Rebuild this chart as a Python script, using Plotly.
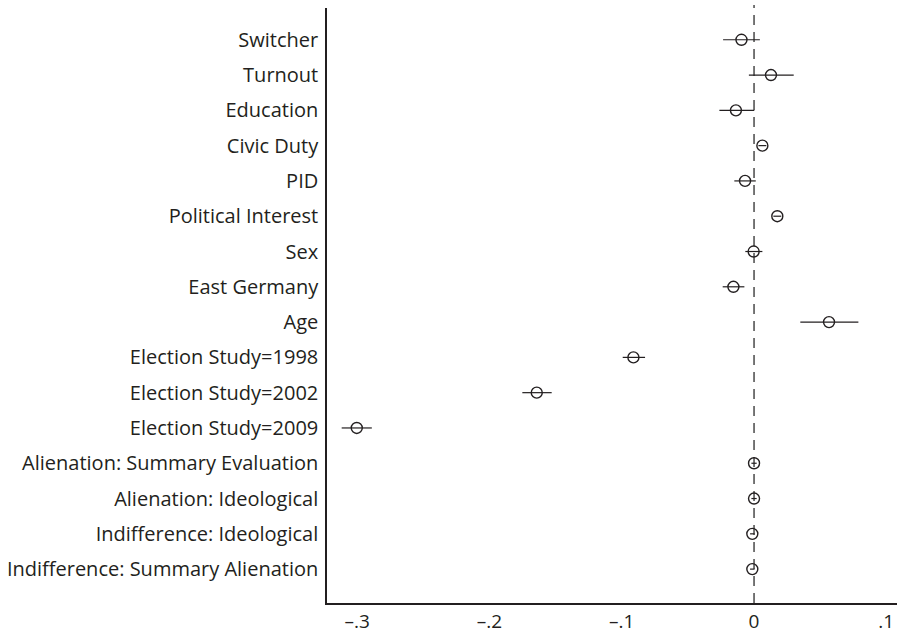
import plotly.graph_objects as go

labels = ["Switcher", "Turnout", "Education", "Civic Duty", "PID", "Political Interest",
          "Sex", "East Germany", "Age", "Election Study=1998", "Election Study=2002",
          "Election Study=2009", "Alienation: Summary Evaluation", "Alienation: Ideological",
          "Indifference: Ideological", "Indifference: Summary Alienation"]
estimate = [-0.0095, 0.0128, -0.0137, 0.0063, -0.0068, 0.0176, -0.0003, -0.0156, 0.0567,
            -0.0912, -0.1643, -0.3004, 0.0000, 0.0000, -0.0013, -0.0013]
ci_low = [-0.0234, -0.0039, -0.0262, 0.0033, -0.0149, 0.0146, -0.0066, -0.0237, 0.0350,
          -0.0993, -0.1752, -0.3118, -0.0020, -0.0020, -0.0030, -0.0030]
ci_high = [0.0044, 0.0300, 0.0002, 0.0093, 0.0013, 0.0206, 0.0063, -0.0073, 0.0789,
           -0.0824, -0.1530, -0.2890, 0.0020, 0.0020, 0.0004, 0.0004]
tick_vals = [-0.3, -0.2, -0.1, 0, 0.1]
tick_text = ["\u2013.3", "\u2013.2", "\u2013.1", "0", ".1"]

rows = list(range(len(labels)))
ink = "#231f20"

fig = go.Figure()
fig.add_trace(go.Scatter(
    x=estimate, y=rows, mode="markers",
    marker=dict(symbol="circle-open", size=11, color=ink, line=dict(width=1.4, color=ink)),
    error_x=dict(type="data", symmetric=False,
                 array=[h - e for h, e in zip(ci_high, estimate)],
                 arrayminus=[e - l for e, l in zip(estimate, ci_low)],
                 color=ink, thickness=1.2, width=0),
    showlegend=False, hoverinfo="skip"))

fig.add_shape(type="line", xref="x", yref="paper", x0=0, x1=0, y0=0, y1=1.005,
              line=dict(color="#555555", width=1.6, dash="10px,7px"), layer="below")

fig.update_layout(
    width=897, height=634,
    margin=dict(l=327, r=0, t=8, b=29),
    paper_bgcolor="white", plot_bgcolor="white",
    font=dict(family="'Open Sans', sans-serif", size=20, color=ink),
    xaxis=dict(range=[-0.3229, 0.1081], tickvals=tick_vals, ticktext=tick_text,
               showgrid=False, zeroline=False, showline=True, linecolor=ink, linewidth=1.5,
               ticks="", ticklabeloverflow="allow", tickfont=dict(size=19, color=ink)),
    yaxis=dict(range=[15.96, -0.9], tickvals=rows, ticktext=labels,
               showgrid=False, zeroline=False, showline=True, linecolor=ink, linewidth=1.5,
               ticks="", ticklabelstandoff=3, tickfont=dict(size=20, color=ink)),
)
fig.write_html("out.html", config={"displayModeBar": False},
               post_script="document.body.style.margin='0';document.body.style.overflow='hidden';")
